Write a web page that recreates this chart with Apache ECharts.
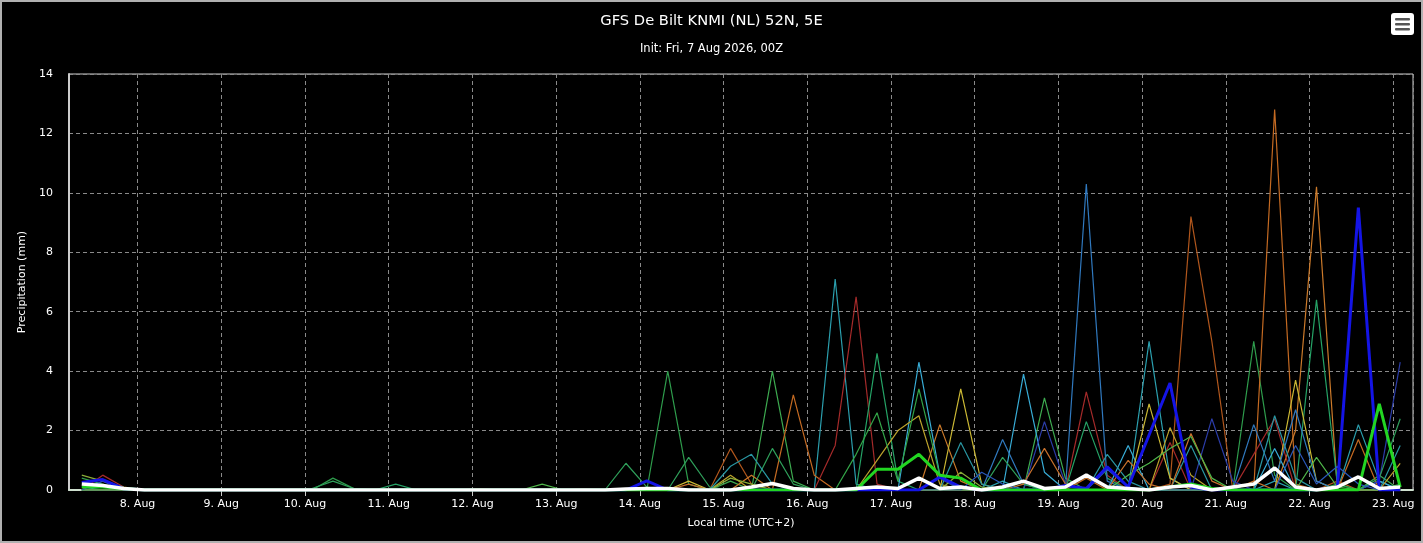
<!DOCTYPE html>
<html>
<head>
<meta charset="utf-8">
<script src="https://cdn.jsdelivr.net/npm/echarts@6/dist/echarts.min.js"></script>
<style>
  html, body { margin: 0; padding: 0; background: #000; }
  #chart { width: 1423px; height: 543px; }
</style>
</head>
<body>
<div id="chart"></div>
<script>
// GFS ensemble, 6-hourly precipitation (mm), first step = 7 Aug 08:00 local (06Z)
var startLocal = Date.UTC(2026, 7, 7, 8);   // shifted so UTC getters read local time
var stepMs = 6 * 3600 * 1000;

var memberColors = [
    '#2b9fae', '#2e9c4c', '#3dab50', '#c46a22', '#b0561c',
    '#cc7a2a', '#a52a2a', '#25a366', '#38acd6', '#cbb834',
    '#bca22c', '#3079bf', '#2b3ca8', '#33a548', '#2f9f5a',
    '#2996a2', '#c7702c', '#8aac38', '#4fb64a', '#2a58ba'
];

var m01 = [0.1,0,0,0,0,0,0,0,0,0,0,0,0,0,0,0,
    0,0,0,0,0,0,0,0,0,0,0,0,0,0,0,0,
    0,0,0,0,7.1,0.2,0,0,0,0,0,0,0.3,0,0,0,
    0,0,0,5.0,0.4,0,0,0,0,0.3,0,0,0,2.2,0.3,0];
var m02 = [0.4,0.2,0,0,0,0,0,0,0,0,0,0,0.4,0.05,0,0,
    0,0,0,0,0,0,0,0,0,0,0,0,4.0,0.2,0,0,
    0,0,0,0,0,0,0,0,0,0,0,0,0,0.3,0,0,
    0,0,0,0,0,0,0,0,5.0,0.5,0,0,0,0,0,0.2];
var m03 = [0,0,0,0,0,0,0,0,0,0,0,0,0,0,0,0,
    0,0,0,0,0,0,0,0,0,0,0,0,0,0,0,0.3,
    0,4.0,0.3,0,0,0,0,0,0,0,0,0,0,0,3.1,0.4,
    0,0,0,0,0,0,0,0,0,0,0,0,0,0,0.5,0];
var m04 = [0,0,0,0,0,0,0,0,0,0,0,0,0,0,0,0,
    0,0,0,0,0,0,0,0,0,0,0,0,0,0,0,0,
    0,0,3.2,0.5,0,0,0,0,0,0,0,0,0,0,0,0,
    0.4,0,0,0,0,0,0,0,0,12.8,0.2,0,0,1.7,0,0];
var m05 = [0,0,0,0,0,0,0,0,0,0,0,0,0,0,0,0,
    0,0,0,0,0,0,0,0,0,0,0,0,0,0,0,1.4,
    0.2,0,0,0,0,0,0,0,0,0,0,0,0,0,0,0,
    0,0,0,0,0.2,9.2,5.0,0,0,0,0,0,0.3,0,0,0];
var m06 = [0,0,0,0,0,0,0,0,0,0,0,0,0,0,0,0,
    0,0,0,0,0,0,0,0,0,0,0,0,0,0,0,0,
    0.5,0,0,0,0,0,0,0,0,2.2,0.3,0,0,0,0,0,
    0,0,0,0,0,0,0,0,0,0,2.0,10.2,0,0,0,0];
var m07 = [0,0.5,0.1,0,0,0,0,0,0,0,0,0,0,0,0,0,
    0,0,0,0,0,0,0,0,0.05,0,0,0,0,0,0,0,
    0,0,0,0,1.5,6.5,0.2,0,0,0,0,0,0,0,0,0,
    3.3,0.5,0,0,1.6,0,0,0,1.2,2.4,0,0,0,0,0,0];
var m08 = [0,0,0,0,0,0,0,0,0,0,0,0,0,0,0,0.2,
    0,0,0,0,0,0,0,0,0,0,0,0,0,0,0,0,
    0,0,0,0,0,0,4.6,0.3,0,0,0,0,0,0,0,0,
    2.3,0.4,0,0,0,0,0,0,0,0,0,6.4,0.2,0,0,0];
var m09 = [0,0,0,0,0,0,0,0,0,0,0,0,0,0,0,0,
    0,0,0,0,0,0,0,0,0,0,0,0,0,0,0,0,
    0,0,0,0,0,0,0,0,4.3,0.5,0,0,0,3.9,0.6,0,
    0,0,1.5,0,0,0,0,0,0,1.4,0,0,0,0,0.3,0];
var m10 = [0,0,0,0,0,0,0,0,0,0,0,0,0,0,0,0,
    0,0,0,0,0,0,0,0,0,0,0,0,0,0.3,0,0,
    0,0,0,0,0,0,0,0,0,0,3.4,0.2,0,0,0,0,
    0,0,0,2.9,0.4,0,0,0,0,0,3.7,0.3,0,0,0,0];
var m11 = [0,0,0,0,0,0,0,0,0,0,0,0,0,0,0,0,
    0,0,0,0,0,0,0,0,0,0,0,0,0,0,0,0.5,
    0,0,0,0,0,0,1.0,2.0,2.5,0.2,0,0,0,0,0,0,
    0,0,0,0,2.1,0.5,0,0,0,0,0,0,0,0,0,0.9];
var m12 = [0,0,0,0,0,0,0,0,0,0,0,0,0,0,0,0,
    0,0,0,0,0,0,0,0,0,0,0,0,0,0,0,0,
    0,0,0,0,0,0,0,0,0,0,0,0,1.7,0.2,0,0,
    10.3,0.3,0,0,0,0,0,0,2.2,0.3,2.7,0.3,0,0,0,0];
var m13 = [0,0,0,0,0,0,0,0,0,0,0,0,0,0,0,0,
    0,0,0,0,0,0,0,0,0,0,0,0,0,0,0,0,
    0,0,0,0,0,0,0,0,0,0.4,0,0,0,0,2.3,0.2,
    0,0,0,0,0,0,2.4,0.3,0,0,0,0,0,0,0.3,4.3];
var m14 = [0,0,0,0,0,0,0,0,0,0,0,0,0,0,0,0,
    0,0,0,0,0,0,0,0,0,0,0,0,0,0,0,0,
    0,0,0,0,0,1.2,2.6,0.3,3.4,0.5,0,0,0,0,0,0,
    0,0,0,0,0,0,0,0,0,0,0,0,0.2,0,0,0];
var m15 = [0,0,0,0,0,0,0,0,0,0,0,0.05,0.3,0.05,0,0,
    0,0,0,0,0,0,0,0,0,0,0.9,0.1,0,1.1,0.1,0,
    0,1.4,0.2,0,0,0,0,0,0,0,0,0,1.1,0.2,0,0,
    0,0,0,0,0,0,0,0,0,0,0,0,0,0,0.4,2.4];
var m16 = [0,0,0,0,0,0,0,0,0,0,0,0,0,0,0,0,
    0,0,0,0,0,0,0,0,0,0,0,0,0,0,0,0.8,
    1.2,0.2,0,0,0,0,0,0,0,0,1.6,0.2,0,0,0,0,
    0,1.2,0.3,0,0,1.5,0,0,0,2.5,0.4,0,0,0,0,1.5];
var m17 = [0,0,0,0,0,0,0,0,0,0,0,0,0,0,0,0,
    0,0,0,0.05,0,0,0,0,0,0,0,0,0,0.2,0,0,
    0,0,0,0,0,0,0,0,0,0,0,0,0,0.2,1.4,0.2,
    0,0,1.0,0.2,0,1.9,0.3,0,0.3,0,0,0,0,0,0,0];
var m18 = [0.5,0.3,0.1,0,0,0,0,0,0,0,0,0,0,0,0,0,
    0,0,0,0,0,0,0,0,0,0,0,0,0,0,0,0.4,
    0.2,0,0,0,0,0,0,0,0,0,0.6,0.1,0,0,0,0,
    0,0,0,0,0,0,0,0,0,0,0,0,0,0,0,0];
var m19 = [0,0,0,0,0,0,0,0,0,0,0,0,0,0,0,0,
    0,0,0,0,0,0,0.2,0,0,0,0,0,0,0,0,0,
    0,0,0,0,0,0,0,0,0,0,0,0,0,0,0,0,
    0,0,0.5,0.9,1.4,1.8,0.4,0,0,0,0,1.1,0.1,0,0,0];
var m20 = [0,0.3,0,0,0,0,0,0,0,0,0,0,0,0,0,0,
    0,0,0,0,0,0,0,0,0,0,0,0,0,0,0,0,
    0,0,0,0,0,0,0,0,0,0,0,0.6,0.2,0,0,0,
    0,0.7,0.1,0,0,0,0,0,0,0,1.5,0.2,0.8,0.2,0,0];

// thick lines
var blueRun = [0.25,0.35,0.05,0,0,0,0,0,0,0,0,0,0,0,0,0,
    0,0,0,0,0,0,0,0,0,0,0,0.31,0,0,0,0,
    0,0,0,0,0,0,0,0,0,0.44,0.1,0,0,0,0,0.15,
    0.05,0.78,0.1,1.85,3.6,0.1,0,0,0,0,0,0,0.1,9.5,0,0];
var greenRun = [0.1,0.1,0.05,0,0,0,0,0,0,0,0,0,0,0,0,0,
    0,0,0,0,0,0,0,0,0,0,0,0,0,0,0,0,
    0,0,0,0,0,0,0.7,0.7,1.2,0.5,0.4,0,0,0,0,0,
    0,0,0,0,0.1,0.2,0.05,0,0,0,0,0,0,0,2.9,0.1];
var whiteRun = [0.2,0.15,0.05,0,0,0,0,0,0,0,0,0,0,0,0,0,
    0,0,0,0,0,0,0,0,0,0,0.03,0.05,0.05,0,0,0,
    0.1,0.22,0.05,0,0,0.05,0.1,0.05,0.4,0.05,0.1,0,0.1,0.3,0.05,0.1,
    0.5,0.1,0.05,0,0.1,0.15,0,0.1,0.2,0.74,0.1,0,0.1,0.44,0.05,0.1];

var members = [m01,m02,m03,m04,m05,m06,m07,m08,m09,m10,
               m11,m12,m13,m14,m15,m16,m17,m18,m19,m20];

function pairs(vals) {
    return vals.map(function (v, i) { return [startLocal + i * stepMs, v]; });
}

var series = [];
for (var k = 0; k < members.length; k++) {
    series.push({
        type: 'line', data: pairs(members[k]), symbol: 'none', silent: true,
        lineStyle: { width: 1.2, color: memberColors[k] }
    });
}
series.push({ type: 'line', data: pairs(blueRun), symbol: 'none',
    lineStyle: { width: 3, color: '#1414e6' } });
series.push({ type: 'line', data: pairs(greenRun), symbol: 'none',
    lineStyle: { width: 3, color: '#22d622' } });
series.push({ type: 'line', data: pairs(whiteRun), symbol: 'none',
    lineStyle: { width: 3.5, color: '#ffffff' } });

var font = 'DejaVu Sans';
var chart = echarts.init(document.getElementById('chart'));
chart.setOption({
    animation: false,
    useUTC: true,
    backgroundColor: '#000',
    textStyle: { fontFamily: font },
    title: {
        text: 'GFS De Bilt KNMI (NL) 52N, 5E',
        subtext: 'Init: Fri, 7 Aug 2026, 00Z',
        left: 'center', top: 9, itemGap: 14,
        textStyle: { color: '#fff', fontSize: 14.7, fontWeight: 'normal', fontFamily: font },
        subtextStyle: { color: '#fff', fontSize: 11.5, fontWeight: 'normal', fontFamily: font }
    },
    grid: { left: 69, right: 10, top: 74, bottom: 53, show: true,
        borderColor: '#cccccc', borderWidth: 1 },
    xAxis: {
        type: 'time',
        min: Date.UTC(2026, 7, 7, 4, 20),
        max: Date.UTC(2026, 7, 23, 5, 40),
        minInterval: 86400000, maxInterval: 86400000,
        name: 'Local time (UTC+2)', nameLocation: 'middle', nameGap: 28,
        nameTextStyle: { color: '#fff', fontSize: 11 },
        axisLine: { lineStyle: { color: '#cfe0cf', width: 2 } },
        axisTick: { show: true, length: 6, lineStyle: { color: '#cccccc' } },
        axisLabel: {
            color: '#fff', fontSize: 11, margin: 9, hideOverlap: false,
            showMinLabel: false, showMaxLabel: false,
            formatter: function (v) { return new Date(v).getUTCDate() + '. Aug'; }
        },
        splitLine: { show: true, lineStyle: { color: '#8a8a8a', type: [4, 3] } }
    },
    yAxis: {
        type: 'value', min: 0, max: 14, interval: 2,
        name: 'Precipitation (mm)', nameLocation: 'middle', nameGap: 39,
        nameTextStyle: { color: '#fff', fontSize: 11 },
        axisLine: { show: true, lineStyle: { color: '#cccccc', width: 2 } },
        axisTick: { show: false },
        axisLabel: { color: '#fff', fontSize: 11, margin: 16 },
        splitLine: { show: true, lineStyle: { color: '#8a8a8a', type: [4, 3] } }
    },
    graphic: [
        { type: 'rect', shape: { x: 1, y: 1, width: 1421, height: 541 },
          style: { fill: 'none', stroke: '#b0b0b0', lineWidth: 2 } },
        { type: 'group', left: 1391, top: 13, children: [
            { type: 'rect', shape: { x: 0, y: 0, width: 23, height: 22, r: 3 },
              style: { fill: '#ffffff' } },
            { type: 'rect', shape: { x: 4, y: 5, width: 15, height: 2.4, r: 1 }, style: { fill: '#555' } },
            { type: 'rect', shape: { x: 4, y: 10, width: 15, height: 2.4, r: 1 }, style: { fill: '#555' } },
            { type: 'rect', shape: { x: 4, y: 15, width: 15, height: 2.4, r: 1 }, style: { fill: '#555' } }
        ] }
    ],
    series: series
});
</script>
</body>
</html>
